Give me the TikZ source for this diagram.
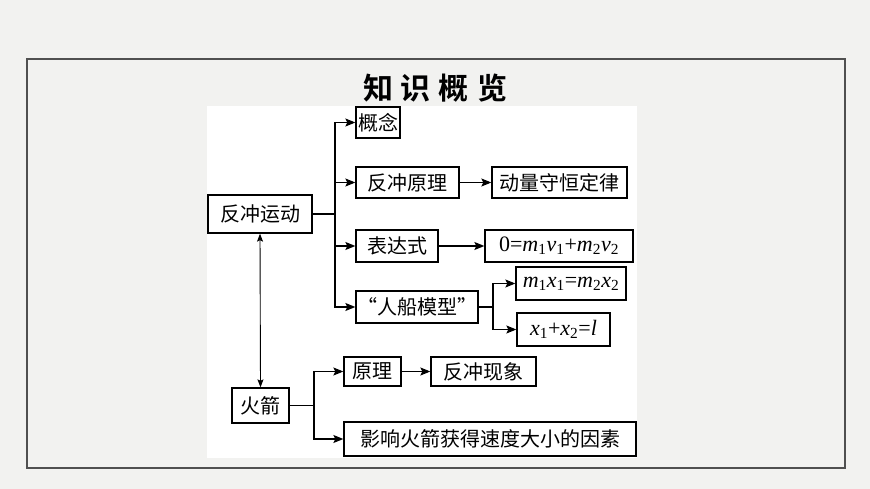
\documentclass[tikz,border=0pt]{standalone}
\usepackage{fontspec}
\newfontfamily\cjk{Noto Sans CJK SC}
\newfontfamily\cjkb{Noto Sans CJK SC Bold}
\newfontfamily\tms{Liberation Serif}
\usetikzlibrary{arrows.meta}
\definecolor{bgc}{RGB}{242,242,240}
\definecolor{framec}{RGB}{80,80,80}
\newcommand{\vi}[2]{\textit{#1}\textsubscript{#2}}
\begin{document}
\begin{tikzpicture}[x=1pt,y=-1pt,
  box/.style={draw=black,line width=1.3pt,inner sep=0pt,align=center,
    font=\cjk\fontsize{20}{22}\selectfont},
  eqbox/.style={box,font=\tms\fontsize{22}{24}\selectfont},
  arr/.style={line width=1.2pt,-{Stealth[length=10pt,width=8pt,inset=2pt]}},
  ln/.style={line width=1.2pt},
  dbl/.style={line width=0.9pt,{Stealth[length=8pt,width=6pt,inset=1.5pt]}-{Stealth[length=8pt,width=6pt,inset=1.5pt]}}]
\useasboundingbox (0,0) rectangle (870,489);
\fill[bgc] (0,0) rectangle (870,489);
\draw[framec,line width=1.2pt] (27,59) rectangle (845,468);
\fill[white] (207,106) rectangle (637,458);
\node[font=\cjkb\fontsize{30}{32}\selectfont] (title) at (435,88) {知\hspace{8pt}识\hspace{8pt}概\hspace{8pt}览};
% nodes
\node[box,minimum width=104pt,minimum height=38pt] (n1) at (260,214) {反冲运动};
\node[box,minimum width=44pt,minimum height=31pt] (gn) at (378,122.5) {概念};
\node[box,minimum width=103pt,minimum height=31pt] (fcyl) at (407.5,182.5) {反冲原理};
\node[box,minimum width=135pt,minimum height=31pt] (dl) at (559.5,182.5) {动量守恒定律};
\node[box,minimum width=82pt,minimum height=32pt] (bds) at (397,246) {表达式};
\node[eqbox,minimum width=148pt,minimum height=32pt] (eq1) at (559,246) {0=\vi{m}{1}\vi{v}{1}+\vi{m}{2}\vi{v}{2}};
\node[box,minimum width=122pt,minimum height=32pt] (rc) at (417,307) {“人船模型”};
\node[eqbox,minimum width=110pt,minimum height=33pt] (eq2) at (571,283.5) {\vi{m}{1}\vi{x}{1}=\vi{m}{2}\vi{x}{2}};
\node[eqbox,minimum width=93pt,minimum height=33pt] (eq3) at (563.5,329.5) {\vi{x}{1}+\vi{x}{2}=\textit{l}};
\node[box,minimum width=57pt,minimum height=35pt] (hj) at (260.5,405.5) {火箭};
\node[box,minimum width=57pt,minimum height=29pt] (yl) at (372.5,371.5) {原理};
\node[box,minimum width=105pt,minimum height=29pt] (fcxx) at (483.5,371.5) {反冲现象};
\node[box,minimum width=292pt,minimum height=34pt] (yx) at (490,439) {影响火箭获得速度大小的因素};
% junctions
\coordinate (t1) at (335,214);
\coordinate (t2) at (493,307);
\coordinate (t3) at (314,405.5);
% connectors
\draw[ln] (n1.east) -- (t1);
\draw[arr] (t1) |- (gn.west);
\draw[arr] (t1) |- (fcyl.west);
\draw[arr] (t1) |- (bds.west);
\draw[arr] (t1) |- (rc.west);
\draw[arr] (fcyl.east) -- (dl.west);
\draw[arr] (bds.east) -- (eq1.west);
\draw[ln] (rc.east) -- (t2);
\draw[arr] (t2) |- (eq2.west);
\draw[arr] (t2) |- (eq3.west);
\draw[ln] (hj.east) -- (t3);
\draw[arr] (t3) |- (yl.west);
\draw[arr] (t3) |- (yx.west);
\draw[arr] (yl.east) -- (fcxx.west);
\draw[dbl] (n1.south) -- (hj.north);
\end{tikzpicture}
\end{document}
